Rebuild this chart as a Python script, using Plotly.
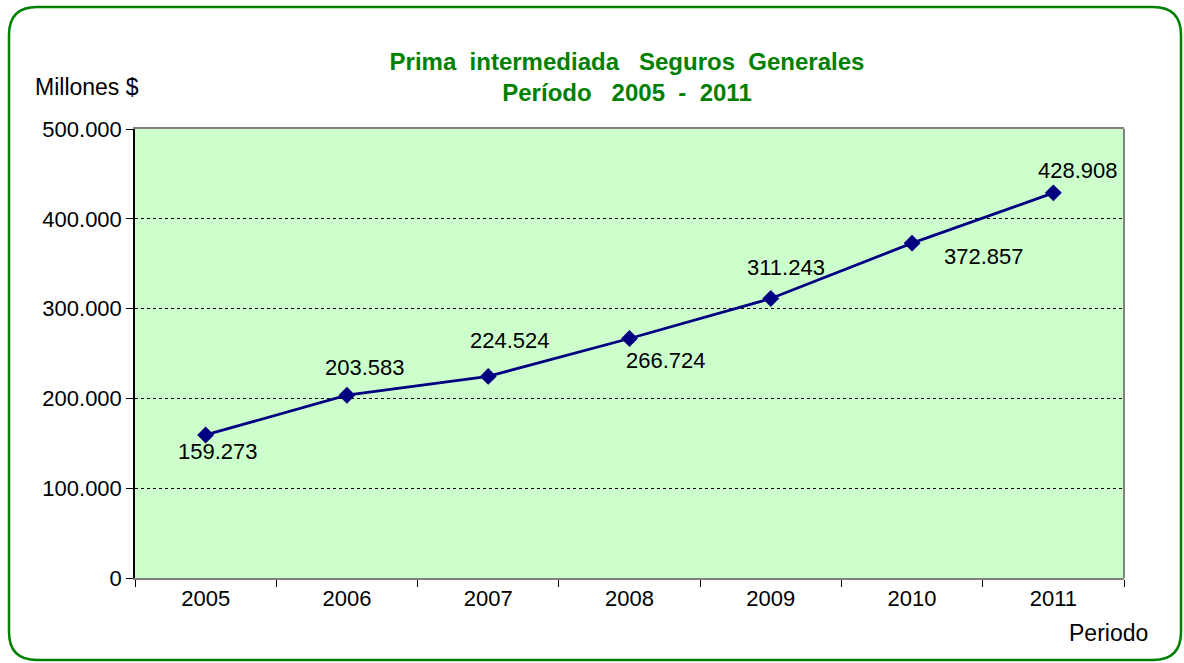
import plotly.graph_objects as go

# data
years = ["2005", "2006", "2007", "2008", "2009", "2010", "2011"]
prima = [159273, 203583, 224524, 266724, 311243, 372857, 428908]
labels = ["159.273", "203.583", "224.524", "266.724", "311.243", "372.857", "428.908"]
yticks = [0, 100000, 200000, 300000, 400000, 500000]
ytick_text = ["0", "100.000", "200.000", "300.000", "400.000", "500.000"]

# label offsets in px (dx, dy) to mimic the excel placement
offsets = [(12, -17), (18, 28), (22, 36), (36, -22), (15, 31), (72, -13), (25, 22)]

navy = "#000080"
green = "#008000"

fig = go.Figure()
fig.add_trace(go.Scatter(
    x=years, y=prima, mode="lines+markers",
    line=dict(color=navy, width=2.8),
    marker=dict(symbol="diamond", size=13, color=navy),
    hoverinfo="x+y", showlegend=False,
))

# category index used so the annotation is not read as a numeric position
for i, (v, lab, (dx, dy)) in enumerate(zip(prima, labels, offsets)):
    fig.add_annotation(x=i, y=v, text=lab, showarrow=False,
                       xshift=dx, yshift=dy,
                       font=dict(size=22, color="black"))

# plot area geometry in px (used for the outer frame)
L, R, T, B = 135, 60, 129, 85
W, H = 1184, 663
pw, ph = W - L - R, H - T - B


def px(x):
    return (x - L) / pw


def py(y):
    return (H - B - y) / ph


x0, x1, y0, y1, r = 9, 1181, 7, 660, 28
rx, ry = r / pw, r / ph
frame = (f"M {px(x0)+rx} {py(y0)} L {px(x1)-rx} {py(y0)} "
         f"Q {px(x1)} {py(y0)} {px(x1)} {py(y0)-ry} "
         f"L {px(x1)} {py(y1)+ry} Q {px(x1)} {py(y1)} {px(x1)-rx} {py(y1)} "
         f"L {px(x0)+rx} {py(y1)} Q {px(x0)} {py(y1)} {px(x0)} {py(y1)+ry} "
         f"L {px(x0)} {py(y0)-ry} Q {px(x0)} {py(y0)} {px(x0)+rx} {py(y0)} Z")

fig.add_shape(type="path", path=frame, xref="paper", yref="paper",
              line=dict(color=green, width=2.5), layer="below")
# right edge of plot area (grey)
fig.add_shape(type="line", xref="paper", yref="paper", x0=1, x1=1, y0=0, y1=1,
              line=dict(color="#808080", width=2))

fig.add_annotation(text="Millones $", xref="paper", yref="paper",
                   x=px(33), y=py(87), xanchor="left", yanchor="middle",
                   showarrow=False, font=dict(size=23, color="black"))
fig.add_annotation(text="Periodo", xref="paper", yref="paper",
                   x=px(1150), y=py(633), xanchor="right", yanchor="middle",
                   showarrow=False, font=dict(size=23, color="black"))

sp = "&nbsp;"
title = ("<b>Prima" + sp * 2 + "intermediada" + sp * 3 + "Seguros" + sp * 2 + "Generales"
         + "<br>Período" + sp * 3 + "2005" + sp * 2 + "-" + sp * 2 + "2011</b>")

fig.update_layout(
    width=W, height=H,
    margin=dict(l=L, r=R, t=T, b=B),
    paper_bgcolor="white",
    plot_bgcolor="#CCFFCC",
    font=dict(family="Liberation Sans, Arial, sans-serif", size=22, color="black"),
    title=dict(
        text=title,
        x=px(627), xanchor="center", y=1 - 70 / H, yanchor="middle",
        xref="paper",
        font=dict(size=24, color=green),
    ),
    xaxis=dict(
        type="category", range=[-0.5, len(years) - 0.5],
        tickson="boundaries", ticks="outside", ticklen=7,
        tickcolor="black", showline=True, linecolor="#808080", linewidth=2,
        mirror=True, showgrid=False, tickfont=dict(size=22), tickangle=0,
    ),
    yaxis=dict(
        range=[0, 500000], tickvals=yticks, ticktext=ytick_text,
        ticks="outside", ticklen=7, tickcolor="black",
        showline=True, linecolor="black", linewidth=1.5,
        showgrid=True, gridcolor="black", griddash="dot", gridwidth=1,
        zeroline=False, tickfont=dict(size=22),
    ),
)

# drop the default 8px body margin so the figure sits at the window corner
fig.write_html("out.html", config={"displayModeBar": False},
               post_script="document.body.style.margin='0';document.body.style.overflow='hidden';")
